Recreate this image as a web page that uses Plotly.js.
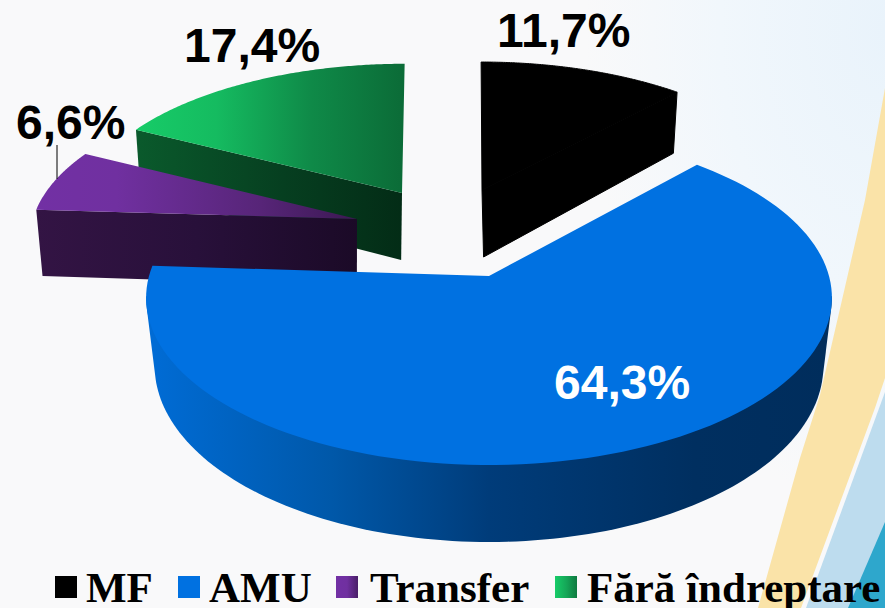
<!DOCTYPE html>
<html>
<head>
<meta charset="utf-8">
<script src="https://cdn.plot.ly/plotly-3.0.1.min.js"></script>
<style>
html,body{margin:0;padding:0;width:885px;height:608px;overflow:hidden;background:#f9f9fa;}
#bands{position:absolute;left:0;top:0;width:885px;height:608px;z-index:0;}
#chart{position:absolute;left:0;top:0;width:885px;height:608px;z-index:1;}
</style>
</head>
<body>
<svg id="bands" xmlns="http://www.w3.org/2000/svg" width="885" height="608" viewBox="0 0 885 608">
  <defs>
    <radialGradient id="wash" gradientUnits="userSpaceOnUse" cx="0" cy="0" r="1" gradientTransform="translate(885 30) scale(300 480)">
      <stop offset="0" stop-color="#e9f3fb"></stop>
      <stop offset="0.55" stop-color="#f1f7fc"></stop>
      <stop offset="1" stop-color="#f9f9fa"></stop>
    </radialGradient>
  </defs>
  <rect x="0" y="0" width="885" height="608" fill="url(#wash)"></rect>
  <polygon id="band1" fill="#fae3a8"></polygon>
  <polygon id="band2" fill="#bddcee"></polygon>
  <polygon id="band3" fill="#2ea7cc"></polygon>
</svg>
<div id="chart"></div>
<script>
// Data
const categories = ['MF', 'AMU', 'Transfer', 'Fără îndreptare'];
const values = [11.7, 64.3, 6.6, 17.4];
const labelColors = ['#000000', '#ffffff', '#000000', '#000000'];

// Exploded 3D pie geometry: apex of top face, radii, extrusion
const depth = 67, persp = 0.13;
const geom = [
  {px: 482, py: 190, a: 320, b: 144.6, skew: -1, x0: 540, f: 0.027},
  {px: 489, py: 276, a: 340, b: 164.4, skew: 0, x0: 490, f: 0.025},
  {px: 357, py: 219, a: 324, b: 150, skew: 0, x0: 350, f: 0.02},
  {px: 402, py: 193, a: 319, b: 146, skew: 3, x0: 360, f: 0.02}
];
const topScales = [
  [[0,'#000000'],[1,'#000000']],
  [[0,'#0071e1'],[1,'#0071e1']],
  [[0,'#7230a4'],[0.25,'#7030a0'],[0.7,'#572578'],[1,'#3b1852']],
  [[0,'#17cc68'],[0.3,'#15bb60'],[0.65,'#0f8a48'],[1,'#0b6b37']]
];
const sideScales = [
  [[0,'#000000'],[1,'#000000']],
  [[0,'#006cd6'],[0.27,'#0058a9'],[0.5,'#003c7a'],[0.8,'#002f60'],[1,'#002d5c']],
  [[0,'#331444'],[0.5,'#28103a'],[1,'#1b0a27']],
  [[0,'#0a5a2c'],[0.55,'#063f20'],[1,'#032c16']]
];
const swatchScales = [
  topScales[0], topScales[1],
  [[0,'#7230a4'],[0.5,'#7030a0'],[1,'#4a1f68']],
  [[0,'#17cc68'],[0.5,'#15a858'],[1,'#0f7a40']]
];

// Decorative page background bands behind the chart
const bandYellow = [[885,88],[865,200],[842,300],[820,395],[800,458],[758,608],[801,608],[875,408],[885,378]];
const bandBlue = [[885,392],[806,608],[885,608]];
const bandTeal = [[885,522],[848,608],[885,608]];
[bandYellow, bandBlue, bandTeal].forEach((b, i) => {
  document.getElementById('band' + (i + 1)).setAttribute('points', b.map(p => p.join(',')).join(' '));
});

// Cumulative angles, clockwise from 12 o'clock, from the values
const total = values.reduce((s, v) => s + v, 0);
let run = 0;
const spans = values.map(v => {
  const s = run; run += v;
  return [s / total * 2 * Math.PI, run / total * 2 * Math.PI];
});

function pt(g, th, lower) {
  const u = Math.sin(th), v = Math.cos(th), w = 1 + persp * v;
  let x = g.px + g.a * u / w + g.skew * v / w;
  let y = g.py - g.b * v / w;
  if (lower) { x += (g.x0 - x) * g.f; y += depth / w; }
  return [x, y];
}
function arc(g, t0, t1, lower) {
  const out = [], n = 120;
  for (let i = 0; i <= n; i++) out.push(pt(g, t0 + (t1 - t0) * i / n, lower));
  return out;
}
function apex(g, lower) {
  return lower ? [g.px + (g.x0 - g.px) * g.f, g.py + depth] : [g.px, g.py];
}
function hull(points) {
  const p = points.slice().sort((a, b) => a[0] - b[0] || a[1] - b[1]);
  const cross = (o, a, b) => (a[0]-o[0])*(b[1]-o[1]) - (a[1]-o[1])*(b[0]-o[0]);
  const lo = [], up = [];
  p.forEach(q => { while (lo.length > 1 && cross(lo[lo.length-2], lo[lo.length-1], q) <= 0) lo.pop(); lo.push(q); });
  p.slice().reverse().forEach(q => { while (up.length > 1 && cross(up[up.length-2], up[up.length-1], q) <= 0) up.pop(); up.push(q); });
  return lo.slice(0, -1).concat(up.slice(0, -1));
}
function poly(points, scale, name, edge) {
  const xs = points.map(p => p[0]), ys = points.map(p => p[1]);
  xs.push(xs[0]); ys.push(ys[0]);
  const same = scale[0][1] === scale[scale.length - 1][1];
  const t = {type: 'scatter', mode: 'lines', x: xs, y: ys, fill: 'toself',
    line: edge ? {width: 1, color: edge, simplify: false} : {width: 0, simplify: false},
    hoverinfo: 'skip', showlegend: false, name: name};
  t.fillcolor = scale[0][1];
  if (!same) t.fillgradient = {type: 'horizontal', colorscale: scale};
  return t;
}
function sliceTraces(i) {
  const g = geom[i], t0 = spans[i][0], t1 = spans[i][1];
  const top = [apex(g, false)].concat(arc(g, t0, t1, false));
  const edge = i === 0 ? '#000000' : null;
  let side;
  if (i === 1) {            // front rim of the big slice: hull of the two front arcs
    const a0 = 97 * Math.PI / 180, a1 = 263 * Math.PI / 180;
    side = hull(arc(g, a0, a1, false).concat(arc(g, a0, a1, true)));
  } else if (i === 0) {
    side = [apex(g, false), pt(g, t1, false), pt(g, t1, true), apex(g, true)];
  } else {
    side = [apex(g, false), pt(g, t0, false), pt(g, t0, true), apex(g, true)];
  }
  return [poly(side, sideScales[i], categories[i] + ' side', edge),
          poly(top, topScales[i], categories[i], edge)];
}

const traces = [].concat(sliceTraces(3), sliceTraces(2), sliceTraces(0), sliceTraces(1));

// Leader line for the small slice
traces.push({type: 'scatter', mode: 'lines', x: [57, 57], y: [145, 179],
  line: {color: '#000000', width: 1}, hoverinfo: 'skip', showlegend: false});

// Legend
const legendSwatchX = [55, 178, 336, 555];
const legendTextX = [84, 207, 368, 585];
categories.forEach((c, i) => {
  const x = legendSwatchX[i];
  const pts = [[x, 576], [x + 22, 576], [x + 22, 598], [x, 598]];
  traces.push(poly(pts, swatchScales[i], c + ' key'));
});

const fmt = v => v.toFixed(1).replace('.', ',') + '%';
const labelPos = [[563, 30], [622, 382], [70, 122], [252, 45]];
const annotations = values.map((v, i) => ({
  x: labelPos[i][0], y: labelPos[i][1], xref: 'x', yref: 'y', text: '<b>' + fmt(v) + '</b>', showarrow: false,
  xanchor: 'center', yanchor: 'middle',
  font: {family: 'Liberation Sans, Arial, sans-serif', size: 48, color: labelColors[i]}
}));
categories.forEach((c, i) => annotations.push({
  x: legendTextX[i], y: 587, xref: 'x', yref: 'y', text: '<b>' + c + '</b>', showarrow: false,
  xanchor: 'left', yanchor: 'middle',
  font: {family: 'Liberation Serif, Times New Roman, serif', size: 43, color: '#000000'}
}));

const layout = {
  width: 885, height: 608, autosize: false,
  margin: {l: 0, r: 0, t: 0, b: 0, pad: 0},
  paper_bgcolor: 'rgba(0,0,0,0)', plot_bgcolor: 'rgba(0,0,0,0)',
  showlegend: false,
  xaxis: {range: [0, 885], visible: false, fixedrange: true},
  yaxis: {range: [608, 0], visible: false, fixedrange: true},
  annotations: annotations
};
Plotly.newPlot('chart', traces, layout, {displayModeBar: false, staticPlot: true});
</script>
</body>
</html>
